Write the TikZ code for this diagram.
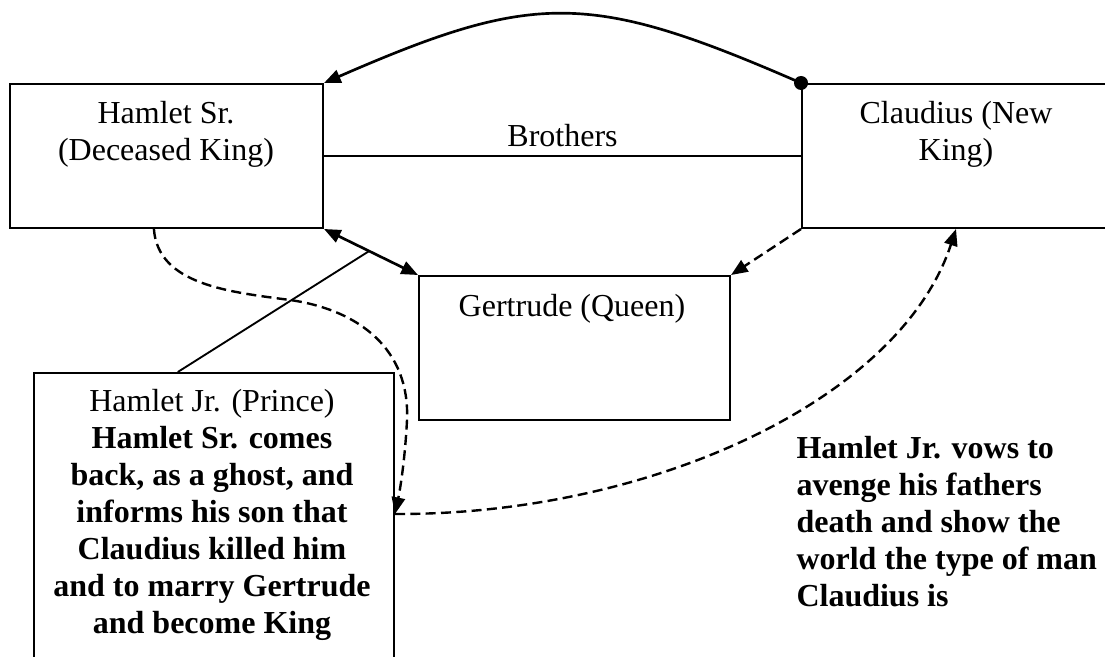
\documentclass[tikz,border=0pt]{standalone}
\usepackage{fontspec}
\setmainfont{Liberation Serif}
\usetikzlibrary{arrows.meta,calc}
\tikzset{
	box/.style={draw, line width=1.5pt, rectangle, inner sep=0pt, anchor=north west},
	txt/.style={font=\fontsize{24}{27.75}\selectfont, align=center, inner sep=0pt},
	plain/.style={line width=1.4pt},
	link/.style={line width=2pt, -{Triangle[length=12.5pt,width=10pt]}},
	both/.style={line width=2pt, {Triangle[length=12.5pt,width=10pt]}-{Triangle[length=12.5pt,width=10pt]}},
	hint/.style={line width=1.8pt, dash pattern=on 7.5pt off 4pt, -{Triangle[length=12.5pt,width=10pt]}}}
\tikzset{every picture/.style={line width=0.75pt}}

\begin{document}
\begin{tikzpicture}[x=0.75pt,y=0.75pt,yscale=-1,xscale=1]
	\useasboundingbox (0,0) rectangle (1105,656);
	\clip (0,0) rectangle (1105,656);

	%Shape: Rectangle [Hamlet Sr.]
	\node[box, minimum width=234.75pt, minimum height=108pt] (hamSr) at (9,83) {};
	%Shape: Rectangle [Claudius]
	\node[box, minimum width=240pt, minimum height=108pt] (claud) at (801,83) {};
	%Shape: Rectangle [Gertrude]
	\node[box, minimum width=233.25pt, minimum height=108pt] (gert) at (418,275) {};
	%Shape: Rectangle [Hamlet Jr.]
	\node[box, minimum width=270pt, minimum height=240pt] (hamJr) at (33,372) {};
	\coordinate (jrSide) at ($(hamJr.north east)+(0,142)$);

	% Text Node
	\node[txt] (hamSrTxt) at (166,134) {Hamlet Sr.\\(Deceased King)};
	% Text Node
	\node[txt] (claudTxt) at (956,134) {Claudius (New\\King)};
	% Text Node
	\node[txt] (gertTxt) at (572,309) {Gertrude (Queen)};
	% Text Node
	\node[txt] (hamJrTxt) at (212,515) {Hamlet Jr. (Prince)\\\textbf{Hamlet Sr. comes}\\\textbf{back, as a ghost, and}\\\textbf{informs his son that}\\\textbf{Claudius killed him}\\\textbf{and to marry Gertrude}\\\textbf{and become King}};
	% Text Node
	\node[txt, align=left, anchor=west] (vowTxt) at (796,522) {\textbf{Hamlet Jr. vows to}\\\textbf{avenge his fathers}\\\textbf{death and show the}\\\textbf{world the type of man}\\\textbf{Claudius is}};

	%Straight Lines [brothers]
	\draw[plain] (hamSr.east) -- node[txt, above=6pt] (broTxt) {Brothers} (claud.west);
	%Curve Lines [top]
	\draw[link] (claud.north west) .. controls (590,-9) and (535,-9) .. (hamSr.north east);
	\fill (claud.north west) circle (7);
	%Straight Lines [marriage]
	\draw[both] (hamSr.south east) -- coordinate[pos=0.48] (kin) (gert.north west);
	%Straight Lines [son]
	\draw[plain] ($(hamJr.north west)!0.4!(hamJr.north east)$) -- (kin);
	%Straight Lines [dashed]
	\draw[hint] (claud.south west) -- (gert.north east);
	%Curve Lines [ghost]
	\draw[hint] ($(hamSr.south west)!0.46!(hamSr.south east)$) .. controls (158,285) and (230,292) .. (290,300) .. controls (360,310) and (410,350) .. (407,420) .. controls (405,460) and (400,490) .. (jrSide);
	%Curve Lines [vow]
	\draw[hint] (jrSide) .. controls (650,515) and (900,400) .. ($(claud.south west)+(155,0)$);

\end{tikzpicture}
\end{document}
